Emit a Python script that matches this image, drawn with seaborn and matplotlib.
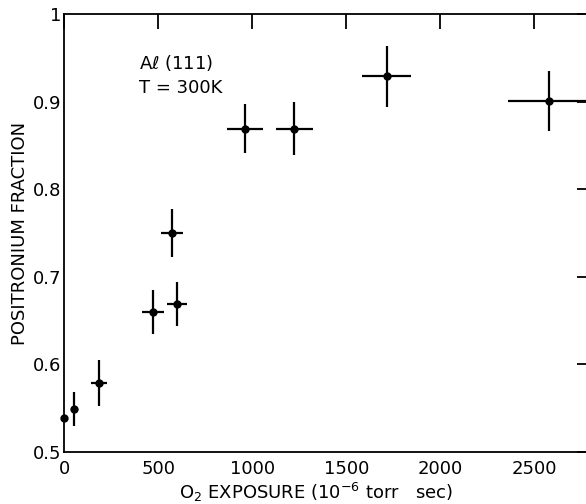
import matplotlib
matplotlib.use("Agg")
import matplotlib.pyplot as plt
import seaborn as sns
import pandas as pd

exposure = [0, 55, 187, 474, 600, 575, 961, 1223, 1714, 2576]
fraction = [0.539, 0.549, 0.579, 0.660, 0.669, 0.750, 0.869, 0.869, 0.929, 0.901]
x_err = [0, 20, 42, 57, 53, 59, 96, 98, 128, 218]
y_err = [0, 0.019, 0.026, 0.025, 0.025, 0.027, 0.028, 0.030, 0.035, 0.034]
x_ticks = [0, 500, 1000, 1500, 2000, 2500]
y_ticks = [0.5, 0.6, 0.7, 0.8, 0.9, 1.0]
y_tick_labels = ["0.5", "0.6", "0.7", "0.8", "0.9", "1"]

df = pd.DataFrame({"exposure": exposure, "fraction": fraction})

sns.set_style("white")
plt.rcParams["font.family"] = ["DejaVu Sans"]
plt.rcParams["text.color"] = "black"
plt.rcParams["axes.labelcolor"] = "black"
plt.rcParams["xtick.color"] = "black"
plt.rcParams["ytick.color"] = "black"

W, H = 586, 504
fig = plt.figure(figsize=(W / 100, H / 100), dpi=100)
left, right, top, bottom = 64, 589, 14, 452
ax = fig.add_axes([left / W, 1 - bottom / H, (right - left) / W, (bottom - top) / H])

ax.errorbar(exposure, fraction, xerr=x_err, yerr=y_err, fmt="none",
            ecolor="black", elinewidth=1.6, capsize=0, zorder=2)
sns.scatterplot(data=df, x="exposure", y="fraction", ax=ax, color="black",
                s=36, edgecolor="black", linewidth=0, zorder=3, clip_on=False)

ax.set_xlim(0, 2790)
ax.set_ylim(0.5, 1.0)
ax.set_xticks(x_ticks)
ax.set_xticklabels([str(t) for t in x_ticks])
ax.set_yticks(y_ticks)
ax.set_yticklabels(y_tick_labels)
ax.tick_params(axis="both", direction="in", length=11, width=1.3,
               top=True, right=True, labelsize=13, labelcolor="black")
ax.tick_params(axis="x", pad=6)
ax.tick_params(axis="y", pad=2)
for t in ax.yaxis.get_major_ticks():
    t.tick1line.set_markersize(14)
    t.tick2line.set_markersize(9)
for s in ax.spines.values():
    s.set_color("black")
    s.set_linewidth(1.3)

ax.set_xlabel(r"O$_2$ EXPOSURE (10$^{-6}$ torr   sec)", fontsize=13)
ax.xaxis.set_label_coords((316 - left) / (right - left), (bottom - 499) / (bottom - top))
ax.xaxis.label.set_verticalalignment("baseline")
ax.set_ylabel("POSITRONIUM FRACTION", fontsize=13, labelpad=3)

ax.text(400, 0.944, "A$\\ell$ (111)", fontsize=13, ha="left", va="center")
ax.text(400, 0.9155, "T = 300K", fontsize=13, ha="left", va="center")

fig.savefig("out.png", dpi=100)
